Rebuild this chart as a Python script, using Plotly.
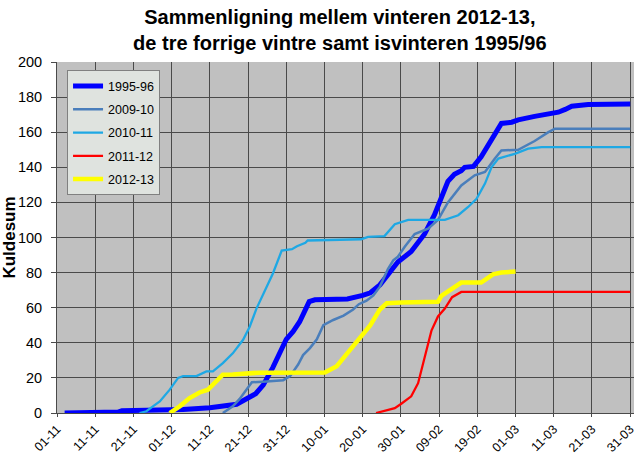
import plotly.graph_objects as go

# x = days since 1 November
tick_days = [0, 10, 20, 30, 40, 50, 60, 70, 80, 90, 100, 110, 120, 130, 140, 150]
tick_labels = ["01-11", "11-11", "21-11", "01-12", "11-12", "21-12", "31-12", "10-01",
               "20-01", "30-01", "09-02", "19-02", "01-03", "11-03", "21-03", "31-03"]

d_1995 = [2, 16, 17, 29.5, 33, 40, 44, 47, 49.5, 52, 54, 56.5, 60, 61.8, 63.5, 66, 67.5, 76, 80,
          82, 84.5, 87, 89.2, 92.7, 96.2, 98.8, 100.6, 102.3, 104, 105.8, 106.7, 109, 111, 113.7,
          116.3, 119, 120.7, 125, 128.6, 131.2, 133, 134.7, 139, 142.6, 150]
v_1995 = [0, 0.5, 1.3, 1.5, 2, 3, 4, 5, 8, 11, 16, 26, 42, 46.5, 52, 63.5, 64.5, 65, 67,
          68.5, 73, 80, 86, 92, 102, 113, 122, 132, 136, 138, 140, 140.5, 146, 156,
          165, 165.7, 167, 169, 170, 171.4, 173, 174.8, 175.8, 176, 176]

d_2009 = [43.4, 46, 47.8, 49.6, 51, 54.8, 59.2, 61, 63.1, 64.4, 66.2, 68, 69.7, 72.3, 75, 77.5, 79,
          81, 82.8, 84.5, 86.6, 88, 89.2, 91, 93.6, 97.1, 99.7, 102.3, 105.8, 109.3, 112, 114.6,
          116.3, 120.7, 125, 128.6, 130.3, 150]
v_2009 = [0, 3.8, 8, 13.5, 17.5, 18, 18.7, 21, 27.6, 33, 37, 42, 50, 53, 55.5, 59, 62,
          64, 67, 72, 82, 87, 89, 94.7, 102, 105, 110, 120, 129.7, 135.4, 137.3, 145,
          149.6, 150, 155, 160, 162, 162]

d_2010 = [21.6, 23.4, 25.1, 26.9, 29.5, 31.7, 33, 36.5, 39.1, 40.8, 43.4, 46, 48.7, 50.4, 52.2, 54,
          56.5, 58.8, 61.5, 62.8, 65, 65.6, 79.6, 81.4, 85.7, 88.4, 91.9, 101.5, 105, 107.6, 109.8,
          112, 113.7, 115.5, 119.8, 123.3, 126.8, 150]
v_2010 = [0, 1, 3.8, 6.6, 13.3, 20, 21, 21, 23.7, 23.7, 28.4, 34, 41.7, 49, 59.5, 68,
          79.5, 92.5, 93.3, 95, 97, 98.3, 99, 100.4, 100.8, 107.6, 110, 110, 112.7, 117.4, 122,
          130.7, 140, 145, 147.7, 150.6, 151.5, 151.5]

d_2011 = [83.5, 86.6, 88.4, 90.1, 92.7, 94.5, 96.2, 98, 99.7, 101.5, 103.4, 105.8, 150]
v_2011 = [0, 2, 2.8, 5.3, 9.5, 17, 32, 47, 55, 59.5, 66, 69, 69]

d_2012 = [29.5, 32.1, 34.7, 37.3, 39.5, 41.7, 43.4, 46, 51.3, 53, 70.1, 73.2, 76.7, 80.2, 82, 84.5,
          86.3, 90.1, 99.7, 100.6, 103.2, 105.8, 111, 114.1, 116.3, 120]
v_2012 = [0, 3.8, 8.5, 11.7, 13.3, 18, 21.8, 22, 22.3, 23, 23.1, 26.7, 36, 45, 50, 59,
          62.5, 63, 63.4, 66.7, 70.5, 74.3, 74.3, 79, 80, 80.6]

series = [
    ("1995-96", d_1995, v_1995, "#0000FF", 5),
    ("2009-10", d_2009, v_2009, "#4A7EBB", 2.5),
    ("2010-11", d_2010, v_2010, "#1EA8E4", 2.3),
    ("2011-12", d_2011, v_2011, "#FF0000", 2.3),
    ("2012-13", d_2012, v_2012, "#FFFF00", 4.5),
]

FONT = "Arial, Liberation Sans, sans-serif"

fig = go.Figure()
for name, xs, ys, color, w in series:
    fig.add_trace(go.Scatter(x=xs, y=ys, mode="lines", name=name, legendgroup=name,
                             line=dict(color=color, width=w)))

fig.update_layout(
    width=640, height=457,
    margin=dict(l=57, r=6, t=61.5, b=43.7),
    paper_bgcolor="white",
    plot_bgcolor="#C0C0C0",
    font=dict(family=FONT, size=14, color="black"),
    title=dict(text="Sammenligning mellem vinteren 2012-13,<br>de tre forrige vintre samt isvinteren 1995/96",
               x=0.531, xref="container", xanchor="center",
               y=0.948, yref="container", yanchor="top",
               font=dict(family=FONT, size=20, color="black", weight="bold")),
    showlegend=True,
    legend=dict(x=0.0174, y=0.976, xanchor="left", yanchor="top",
                bgcolor="#DFE3DF", bordercolor="#808080", borderwidth=1,
                font=dict(family=FONT, size=12.5, color="black"),
                traceorder="grouped", tracegroupgap=4),
    xaxis=dict(range=[0, 151], tickmode="array", tickvals=tick_days, ticktext=tick_labels,
               tickangle=-45, showgrid=True, gridcolor="#4A4A4A", gridwidth=1,
               ticks="outside", ticklen=3, tickcolor="#4A4A4A", automargin=False,
               showline=True, linecolor="#4A4A4A", linewidth=1, zeroline=False,
               tickfont=dict(family=FONT, size=12.5)),
    yaxis=dict(range=[0, 200], dtick=20, tick0=0, showgrid=True, gridcolor="#4A4A4A", gridwidth=1,
               ticks="outside", ticklen=5, tickcolor="#4A4A4A", ticklabelstandoff=6,
               showline=True, linecolor="#4A4A4A", linewidth=1, zeroline=False, automargin=False,
               tickfont=dict(family=FONT, size=14.5),
               title=dict(text="Kuldesum", standoff=3,
                          font=dict(family=FONT, size=17, color="black", weight="bold"))),
)

fig.write_html("out.html")
